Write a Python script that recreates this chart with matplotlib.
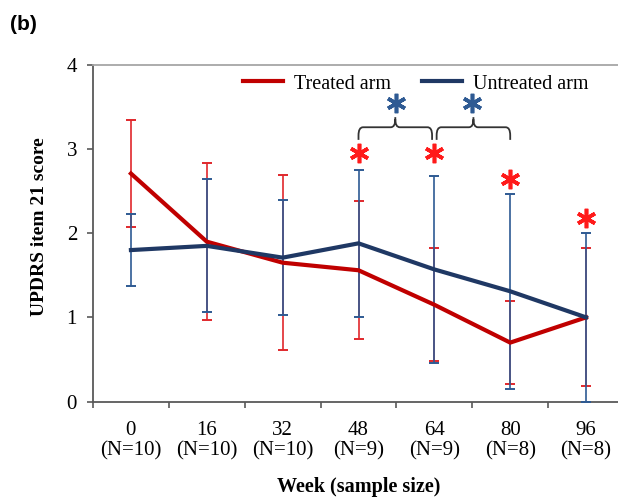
"""UPDRS item 21 score by week, treated vs untreated arm (panel b)."""

import numpy as np
import matplotlib

matplotlib.use("Agg")
import matplotlib.pyplot as plt
from matplotlib.path import Path
from matplotlib.patches import PathPatch

# ---------------------------------------------------------------------------
# Data
# ---------------------------------------------------------------------------
weeks = ["0", "16", "32", "48", "64", "80", "96"]
sample_sizes = [10, 10, 10, 9, 9, 8, 8]

treated_mean = [2.71, 1.90, 1.65, 1.56, 1.15, 0.70, 1.00]
treated_err = [0.64, 0.93, 1.04, 0.82, 0.67, 0.49, 0.82]

untreated_mean = [1.80, 1.85, 1.71, 1.88, 1.57, 1.31, 1.00]
untreated_err = [0.43, 0.79, 0.68, 0.875, 1.11, 1.16, 1.00]

# Within-arm significance markers (treated arm vs baseline)
red_star_idx = [3, 4, 5, 6]
red_star_y = [2.95, 2.95, 2.65, 2.18]

# Untreated arm: brackets between consecutive visits
bracket_pairs = [(3, 4), (4, 5)]
bracket_y = 3.26
blue_star_y = 3.55

# ---------------------------------------------------------------------------
# Style
# ---------------------------------------------------------------------------
RED_LINE = "#C00000"
NAVY_LINE = "#1F3864"
RED_ERR = "#E0282C"
BLUE_ERR = "#2E5A93"
RED_STAR = "#FF1A1A"
SPINE = "#595959"
SERIF = "Liberation Serif"

plt.rcParams["font.family"] = SERIF

W, H = 618, 498
fig = plt.figure(figsize=(W / 100, H / 100), dpi=100)
ax = fig.add_axes([93 / W, (H - 401.5) / H, 531 / W, 336.5 / H])

x = np.arange(len(weeks))

ax.errorbar(x, treated_mean, yerr=treated_err, fmt="none", ecolor=RED_ERR,
            elinewidth=1.2, capsize=3.3, capthick=1.4, zorder=2, clip_on=True)
ax.errorbar(x, untreated_mean, yerr=untreated_err, fmt="none", ecolor=BLUE_ERR,
            elinewidth=1.2, capsize=3.3, capthick=1.4, zorder=3, clip_on=True)
ax.plot(x, treated_mean, color=RED_LINE, lw=3, zorder=4, label="Treated arm",
        solid_joinstyle="miter")
ax.plot(x, untreated_mean, color=NAVY_LINE, lw=3, zorder=5, label="Untreated arm",
        solid_joinstyle="miter")

# red asterisks
ax.plot([x[i] for i in red_star_idx], red_star_y, linestyle="none",
        marker=(6, 2, 0), markersize=14, markeredgewidth=2.6,
        color=RED_STAR, zorder=6, clip_on=False)


def brace(ax, x0, x1, y, drop=0.15, rise=0.12, r=0.06):
    """Curly-ish bracket from x0 to x1 with a tip at the middle."""
    xm = (x0 + x1) / 2.0
    ry = r * 1.6
    verts = [
        (x0, y - drop), (x0, y - ry), (x0, y), (x0 + r, y),
        (xm - r, y), (xm, y), (xm, y + ry), (xm, y + rise),
        (xm, y + ry), (xm, y), (xm + r, y),
        (x1 - r, y), (x1, y), (x1, y - ry), (x1, y - drop),
    ]
    codes = [
        Path.MOVETO, Path.LINETO, Path.CURVE3, Path.CURVE3,
        Path.LINETO, Path.CURVE3, Path.CURVE3, Path.LINETO,
        Path.MOVETO, Path.CURVE3, Path.CURVE3,
        Path.LINETO, Path.CURVE3, Path.CURVE3, Path.LINETO,
    ]
    ax.add_patch(PathPatch(Path(verts, codes), fill=False, edgecolor="#333333",
                           lw=1.3, clip_on=False, zorder=6))


for a, b in bracket_pairs:
    brace(ax, x[a] + (0.03 if a == 4 else 0.0), x[b] - (0.03 if b == 4 else 0.0),
          bracket_y)
    ax.plot((x[a] + x[b]) / 2.0, blue_star_y, linestyle="none",
            marker=(6, 2, 0), markersize=14, markeredgewidth=2.6,
            color=BLUE_ERR, zorder=6, clip_on=False)

# axes styling
ax.set_xlim(-0.5, len(weeks) - 0.5)
ax.set_ylim(0, 4)
ax.set_yticks([0, 1, 2, 3, 4])
ax.set_xticks(x)
ax.set_xticklabels([f"{w}\n(N={n})" for w, n in zip(weeks, sample_sizes)],
                   fontsize=15, linespacing=1.1)
ax.set_xticks(np.arange(-0.5, len(weeks)), minor=True)
ax.tick_params(axis="x", which="major", length=0, pad=14)
ax.tick_params(axis="x", which="minor", length=4.5, width=1.2, color=SPINE,
               direction="out")
ax.tick_params(axis="y", length=4.5, width=1.2, color=SPINE, direction="out",
               labelsize=15, pad=7)

for side in ("left", "bottom"):
    ax.spines[side].set_color(SPINE)
    ax.spines[side].set_linewidth(1.3)
ax.spines["top"].set_color("#A6A6A6")
ax.spines["top"].set_linewidth(1.3)
ax.spines["right"].set_visible(False)

ax.set_xlabel("Week (sample size)", fontsize=14.5, fontweight="bold")
ax.xaxis.set_label_coords(0.5, -(487 - 401.5) / 336.5)
ax.xaxis.label.set_va("center")
ax.set_ylabel("UPDRS item 21 score", fontsize=14, fontweight="bold")
ax.yaxis.set_label_coords((40 - 93) / 531, (401.5 - 227) / 336.5)
ax.yaxis.label.set_va("center")

ax.legend(loc="center left", bbox_to_anchor=(243 / W, 1 - 84 / H),
          bbox_transform=fig.transFigure, ncol=2, frameon=False,
          fontsize=14.5, handlelength=2.0, handletextpad=0.55,
          columnspacing=1.5, borderpad=0, borderaxespad=0)

fig.text(10 / W, 1 - 24 / H, "(b)", fontsize=15, fontweight="bold",
         family="Liberation Sans", va="center", ha="left")

fig.savefig("out.png", dpi=100)
